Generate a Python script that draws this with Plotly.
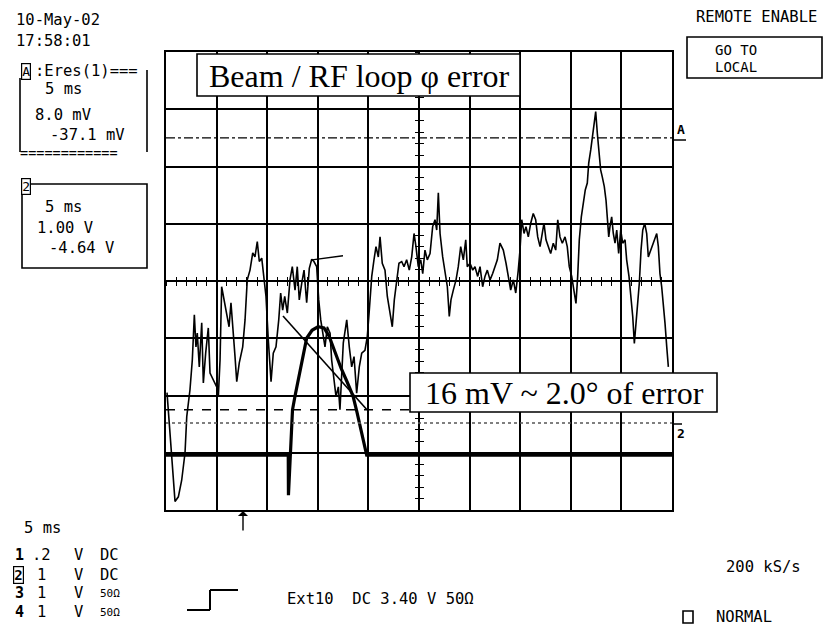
import plotly.graph_objects as go

eres_t = [0.10, 0.56, 0.89, 1.22, 1.55, 1.88, 2.05, 2.37, 2.60, 2.80, 2.96, 3.09, 3.29, 3.53, 3.69, 3.92,
          4.18, 4.35, 4.67, 5.01, 5.17, 5.34, 5.50, 5.73, 6.00, 6.23, 6.42, 6.59, 6.82, 6.99, 7.24, 7.58,
          7.81, 8.03, 8.30, 8.57, 8.79, 9.02, 9.22, 9.46, 9.68, 9.88, 10.11, 10.38, 10.60, 10.87, 11.14,
          11.33, 11.53, 11.73, 11.99, 12.25, 12.48, 12.75, 12.97, 13.17, 13.41, 13.64, 13.90, 14.16,
          14.40, 14.62, 14.89, 15.09, 15.29, 15.48, 15.71, 15.94, 16.21, 16.37, 16.60, 16.80, 17.03,
          17.19, 17.52, 17.86, 18.11, 18.35, 18.58, 18.84, 19.10, 19.34, 19.66, 19.89, 20.09, 20.33,
          20.55, 20.75, 20.98, 21.15, 21.37, 21.64, 21.87, 22.13, 22.36, 22.56, 22.80, 23.02, 23.29,
          23.52, 23.78, 24.04, 24.28, 24.51, 24.70, 24.93, 25.17, 25.37, 25.59, 25.82, 26.09, 26.35,
          26.58, 26.75, 26.91, 27.08, 27.34, 27.57, 27.80, 27.99, 28.16, 28.39, 28.66, 28.88, 29.12,
          29.38, 29.62, 29.77, 30.04, 30.31, 30.53, 30.80, 31.03, 31.29, 31.52, 31.75, 32.02, 32.28,
          32.51, 32.74, 33.00, 33.33, 33.60, 33.82, 34.06, 34.32, 34.56, 34.81, 34.98, 35.15, 35.38,
          35.57, 35.80, 36.04, 36.29, 36.53, 36.73, 36.96, 37.15, 37.35, 37.55, 37.78, 38.01, 38.27,
          38.51, 38.71, 38.93, 39.16, 39.43, 39.65, 39.85, 40.09, 40.32, 40.51, 40.68, 40.84, 41.04,
          41.24, 41.43, 41.63, 41.77, 41.97, 42.16, 42.32, 42.46, 42.62, 42.79, 42.95, 43.11, 43.31,
          43.48, 43.61, 43.75, 43.87, 44.04, 44.20, 44.37, 44.54, 44.73, 44.93, 45.13, 45.36, 45.52,
          45.75, 45.95, 46.12, 46.28, 46.44, 46.61, 46.77, 46.94, 47.11, 47.30, 47.50, 47.66, 47.90,
          48.09, 48.32, 48.49, 48.65, 48.81, 48.98, 49.14, 49.31, 49.48, 49.64]
eres_div = [-1.95, -3.13, -3.85, -3.77, -3.48, -3.00, -2.37, -1.90, -1.38, -0.59, -1.15, -0.91, -1.50,
            -0.73, -1.78, -1.26, -0.82, -1.61, -1.73, -1.85, -2.02, -1.38, -0.10, -0.33, -0.62, -0.80,
            -0.38, -0.86, -1.32, -1.76, -1.43, -1.15, -0.68, 0.02, 0.19, 0.49, 0.42, 0.69, 0.34, 0.40,
            0.08, -0.27, -1.03, -1.76, -1.26, -1.15, -0.68, -0.21, -0.51, -0.27, -0.56, 0.02, 0.25,
            -0.16, 0.25, -0.33, -0.04, 0.19, -0.38, 0.22, 0.38, 0.34, 0.25, -0.33, -0.68, -0.91, -1.15,
            -0.80, -0.91, -1.38, -1.73, -2.02, -1.85, -2.25, -1.08, -0.68, -1.15, -1.50, -1.32, -1.96,
            -1.50, -1.26, -1.21, -0.97, -0.51, 0.08, 0.37, 0.60, 0.42, 0.77, 0.31, 0.19, -0.27, -0.56,
            -0.80, -0.33, -0.04, 0.31, 0.34, 0.25, 0.37, 0.19, 0.42, 0.83, 0.60, 0.25, 0.37, 0.13, 0.54,
            0.37, 0.48, 0.95, 1.07, 0.89, 1.54, 0.83, 0.42, 0.13, -0.10, -0.62, -0.33, -0.16, 0.02,
            0.25, 0.60, 0.37, 0.72, 0.25, 0.31, 0.19, 0.25, 0.08, 0.25, -0.10, 0.08, 0.19, 0.02, 0.13,
            0.25, 0.37, 0.66, 0.54, 0.31, 0.08, -0.16, 0.02, -0.21, 0.19, 0.54, 1.07, 0.83, 0.95, 0.77,
            1.01, 1.18, 1.07, 0.77, 0.60, 0.83, 1.01, 0.72, 0.60, 0.48, 0.66, 0.54, 1.07, 0.77, 0.66,
            0.77, 0.60, 0.25, 0.08, -0.21, -0.39, 0.08, 0.72, 1.12, 1.41, 1.59, 1.71, 2.06, 2.29, 2.52,
            2.75, 2.96, 2.58, 2.23, 1.94, 1.82, 1.65, 1.41, 1.12, 0.77, 0.95, 1.12, 0.83, 0.66, 0.89,
            0.48, 0.89, 0.66, 0.72, 0.37, 0.08, -0.27, -0.62, -1.09, -0.74, -0.39, -0.04, 0.54, 0.89,
            1.01, 0.83, 0.42, 0.54, 0.66, 0.77, 0.83, 0.60, 0.13, -0.10, -0.39, -0.74, -1.15, -1.50]

ch2_t = [0.00, 12.08, 12.10, 12.30, 12.50, 12.75, 13.24, 13.90, 14.43, 15.02, 15.61, 16.11, 16.70,
         17.29, 17.89, 18.48, 18.87, 19.37, 19.83, 50.00]
ch2_div = [-3.04, -3.04, -3.74, -2.95, -2.25, -2.01, -1.55, -1.00, -0.86, -0.80, -0.82, -0.96, -1.24,
           -1.52, -1.76, -2.01, -2.29, -2.69, -3.04, -3.04]

pointer_t = [11.56, 19.86]
pointer_div = [-0.61, -2.25]
mark_t = [14.43, 17.49]
mark_div = [0.37, 0.44]

level_16mv = -2.25      # dashed level
ref_A = 2.50            # channel A reference (dash-dot)
ref_2 = -2.48           # channel 2 reference (dotted)

# ---------------- layout geometry (pixels) ----------------
W, H = 825, 631
L, R, T, B = 166, 672, 52, 510
MONO = "DejaVu Sans Mono"
SERIF = "Liberation Serif"


def px(x):
    return (x - L) / (R - L)


def py(y):
    return (B - y) / (B - T)


fig = go.Figure()
fig.add_trace(go.Scatter(x=ch2_t, y=ch2_div, mode="lines", line=dict(color="black", width=3.2),
                         hoverinfo="skip"))
fig.add_trace(go.Scatter(x=eres_t, y=eres_div, mode="lines", line=dict(color="black", width=1.6),
                         hoverinfo="skip"))
fig.add_trace(go.Scatter(x=pointer_t, y=pointer_div, mode="lines", line=dict(color="black", width=1.6),
                         hoverinfo="skip"))
fig.add_trace(go.Scatter(x=mark_t, y=mark_div, mode="lines", line=dict(color="black", width=1.4),
                         hoverinfo="skip"))
# empty traces so that the centre-graticule tick axes are rendered
fig.add_trace(go.Scatter(x=[], y=[], xaxis="x2", yaxis="y2", hoverinfo="skip"))
fig.add_trace(go.Scatter(x=[], y=[], xaxis="x3", yaxis="y3", hoverinfo="skip"))

shapes = []
ann = []


def txt(s, x, y, size=15.5, family=MONO, xanchor="left", **kw):
    ann.append(dict(text=s, x=px(x), y=py(y), xref="paper", yref="paper", showarrow=False,
                    xanchor=xanchor, yanchor="middle", font=dict(family=family, size=size, color="black"),
                    **kw))


def pline(x0, y0, x1, y1, width=1.6, dash="solid"):
    shapes.append(dict(type="line", xref="paper", yref="paper", x0=px(x0), y0=py(y0), x1=px(x1),
                       y1=py(y1), line=dict(color="black", width=width, dash=dash)))


def prect(x0, y0, x1, y1, width=1.6, fill="rgba(0,0,0,0)"):
    shapes.append(dict(type="rect", xref="paper", yref="paper", x0=px(x0), y0=py(y0), x1=px(x1),
                       y1=py(y1), line=dict(color="black", width=width), fillcolor=fill))


# reference levels (data coordinates)
shapes.append(dict(type="line", xref="x", yref="y", x0=0, x1=50, y0=ref_A, y1=ref_A,
                   line=dict(color="black", width=1.3, dash="dashdot")))
shapes.append(dict(type="line", xref="x", yref="y", x0=0, x1=50, y0=ref_2, y1=ref_2,
                   line=dict(color="#555555", width=1.5, dash="dot")))
shapes.append(dict(type="line", xref="x", yref="y", x0=0, x1=24.1, y0=level_16mv, y1=level_16mv,
                   line=dict(color="black", width=1.5, dash="dash")))

# channel markers at right edge
txt("<b>A</b>", 675, 130, size=13)
pline(672, 140, 686, 140, width=1.5)
txt("<b>2</b>", 675, 433, size=13)
pline(672, 424, 682, 424, width=1.5)

# text boxes on the screen
prect(197, 54, 520, 96, width=1.6, fill="white")
txt("Beam / RF loop φ error", 359, 76, size=32, family=SERIF, xanchor="center")
prect(410, 373, 717, 412, width=1.6, fill="white")
txt("16 mV ~ 2.0° of error", 564, 393, size=32, family=SERIF, xanchor="center")

# top-left info
txt("10-May-02", 14, 20)
txt("17:58:01", 14, 41)
# box A
txt("A", 21, 71, size=13, bordercolor="black", borderwidth=1.2, borderpad=0)
txt(":Eres(1)===", 33, 71)
pline(20, 78, 20, 152, width=1.6)
pline(147, 70, 147, 152, width=1.6)
txt("============", 18, 153, size=13.5)
txt("5 ms", 43, 89)
txt("8.0 mV", 33, 115)
txt("-37.1 mV", 48, 135)
# box 2
prect(22, 184, 147, 268, width=1.6, fill="white")
txt("2", 21, 187, size=13, bordercolor="black", borderwidth=1.2, borderpad=0, bgcolor="white")
txt("5 ms", 43, 207)
txt("1.00 V", 35, 228)
txt("-4.64 V", 47, 248)

# top-right
txt("REMOTE ENABLE", 694, 17)
prect(687, 37, 822, 78, width=1.6)
txt("GO TO", 713, 50, size=14)
txt("LOCAL", 713, 67, size=14)

# bottom: trigger position arrow
ann.append(dict(x=px(243), y=py(511), ax=0, ay=21, xref="paper", yref="paper",
                axref="pixel", ayref="pixel", showarrow=True, arrowhead=1, arrowsize=1.2,
                arrowwidth=1.4, arrowcolor="black", text=""))
txt("5 ms", 22, 528)
rows_y = [555, 575, 593, 612]
ch_labels = ["<b>1</b>", "<b>2</b>", "<b>3</b>", "<b>4</b>"]
scales = [".2", "1", "1", "1"]
coupl = ["DC", "DC", "50Ω", "50Ω"]
for i, yy in enumerate(rows_y):
    if i == 1:
        txt(ch_labels[i], 13, yy, size=14, bordercolor="black", borderwidth=1.2, borderpad=0)
    else:
        txt(ch_labels[i], 13, yy, size=15)
    txt(scales[i], 30 if i == 0 else 35, yy)
    txt("V", 72, yy)
    txt(coupl[i], 98, yy, size=15.5 if i < 2 else 11)
pline(187, 610, 210, 610, width=2)
pline(210, 610, 210, 590, width=2)
pline(210, 590, 238, 590, width=2)
txt("Ext10  DC 3.40 V 50Ω", 285, 599)
txt("200 kS/s", 724, 567)
prect(683, 611, 693, 623, width=1.6)
txt("NORMAL", 714, 617)

ax_common = dict(showticklabels=False, zeroline=False, fixedrange=True)
tick_ax = dict(showgrid=False, showline=False, ticklen=4, tickwidth=1.4, tickcolor="black", **ax_common)
fig.update_layout(
    width=W, height=H,
    margin=dict(l=L, r=W - R, t=T, b=H - B, pad=0),
    paper_bgcolor="white", plot_bgcolor="white",
    showlegend=False,
    xaxis=dict(range=[0, 50], dtick=5, tick0=0, showgrid=True, gridcolor="black", gridwidth=1.5,
               showline=True, mirror=True, linecolor="black", linewidth=2, ticks="", **ax_common),
    yaxis=dict(range=[-4, 4], dtick=1, tick0=0, showgrid=True, gridcolor="black", gridwidth=1.5,
               showline=True, mirror=True, linecolor="black", linewidth=2, ticks="", **ax_common),
    xaxis2=dict(overlaying="x", anchor="free", position=0.5, range=[0, 50], dtick=1, tick0=0,
                ticks="outside", **tick_ax),
    yaxis2=dict(overlaying="y", anchor="free", position=0.5, range=[-4, 4], dtick=0.2, tick0=0,
                ticks="outside", **tick_ax),
    xaxis3=dict(overlaying="x", anchor="free", position=0.5, range=[0, 50], dtick=1, tick0=0,
                ticks="inside", **tick_ax),
    yaxis3=dict(overlaying="y", anchor="free", position=0.5, range=[-4, 4], dtick=0.2, tick0=0,
                ticks="inside", **tick_ax),
    shapes=shapes,
    annotations=ann,
    hovermode=False,
)

fig.write_html("out.html", config={"displayModeBar": False},
               post_script="document.body.style.margin='0';")
